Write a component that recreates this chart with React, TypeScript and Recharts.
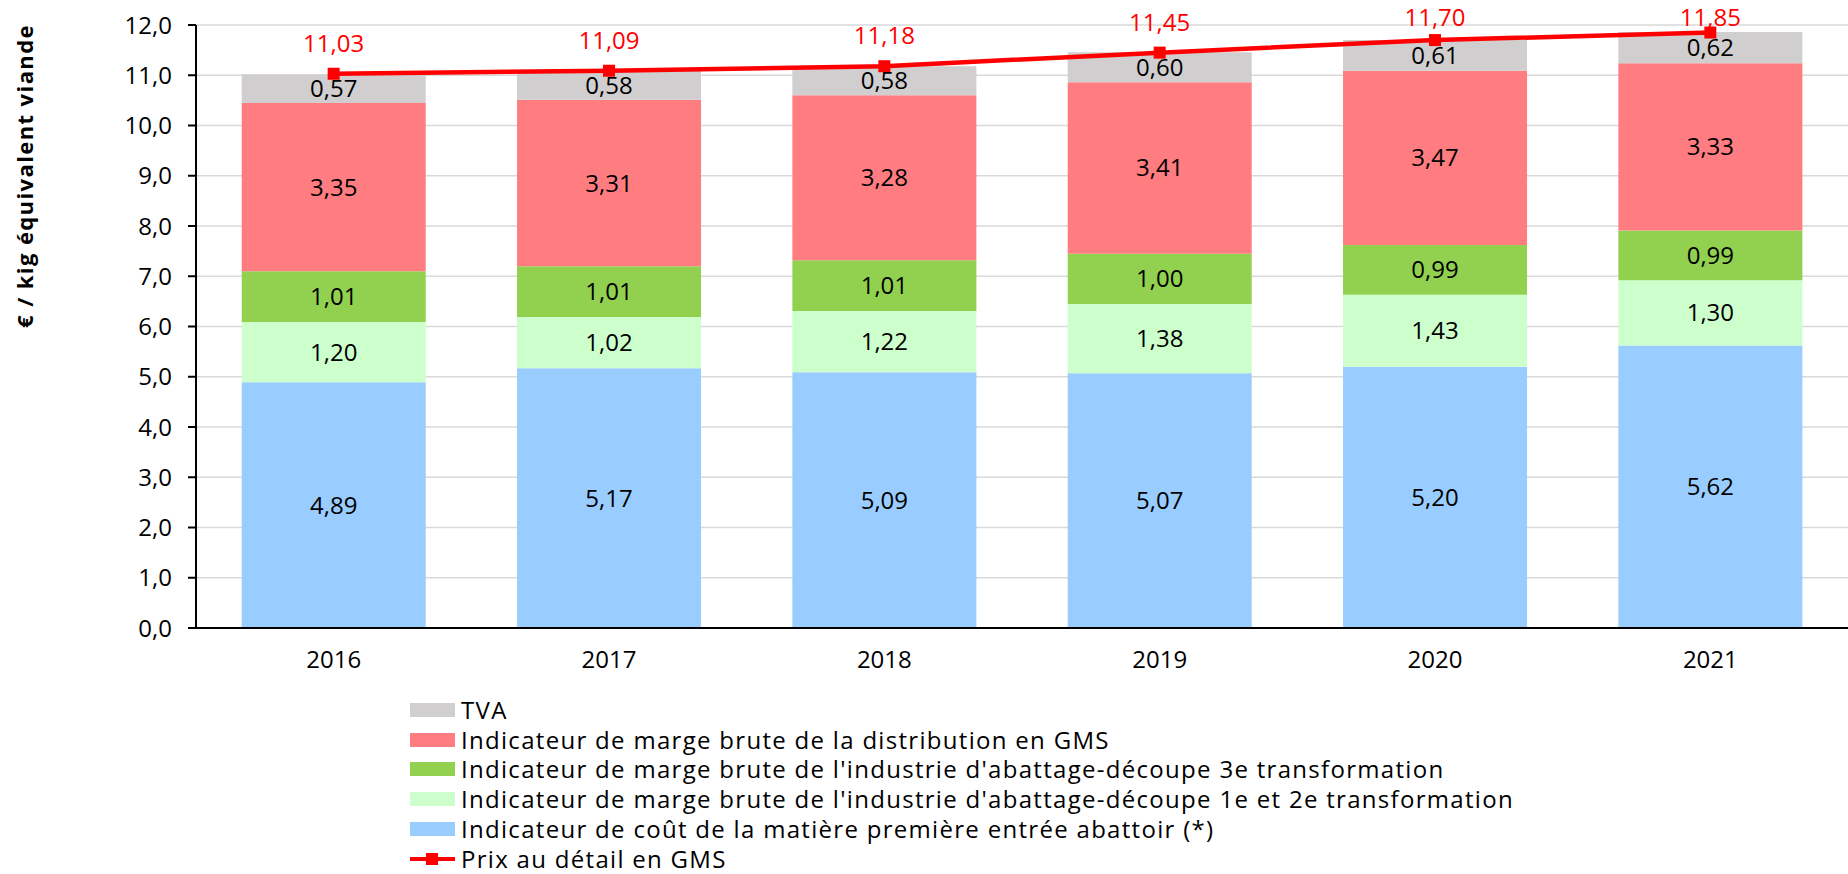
import {
  ComposedChart, Bar, Line, XAxis, YAxis, CartesianGrid, Legend, LabelList,
} from 'recharts';

const years = ['2016', '2017', '2018', '2019', '2020', '2021'];
const coutMatiere = [4.89, 5.17, 5.09, 5.07, 5.20, 5.62];
const marge12 = [1.20, 1.02, 1.22, 1.38, 1.43, 1.30];
const marge3 = [1.01, 1.01, 1.01, 1.00, 0.99, 0.99];
const margeDistrib = [3.35, 3.31, 3.28, 3.41, 3.47, 3.33];
const tva = [0.57, 0.58, 0.58, 0.60, 0.61, 0.62];
const prixDetail = [11.03, 11.09, 11.18, 11.45, 11.70, 11.85];
const yTicks = [0, 1, 2, 3, 4, 5, 6, 7, 8, 9, 10, 11, 12];

const SERIES = [
  { key: 'tva', color: '#D0CECF', label: 'TVA' },
  { key: 'margeDistrib', color: '#FF7C80', label: 'Indicateur de marge brute de la distribution en GMS' },
  { key: 'marge3', color: '#92D050', label: "Indicateur de marge brute de l'industrie d'abattage-découpe 3e transformation" },
  { key: 'marge12', color: '#CCFFCC', label: "Indicateur de marge brute de l'industrie d'abattage-découpe 1e et 2e transformation" },
  { key: 'coutMatiere', color: '#99CCFF', label: 'Indicateur de coût de la matière première entrée abattoir (*)' },
];
const LINE_COLOR = '#FF0000';
const FONT = '"Open Sans", sans-serif';

const data = years.map((year, i) => ({
  year,
  coutMatiere: coutMatiere[i],
  marge12: marge12[i],
  marge3: marge3[i],
  margeDistrib: margeDistrib[i],
  tva: tva[i],
  prix: prixDetail[i],
}));

const fmt2 = (v: number) => v.toFixed(2).replace('.', ',');
const fmt1 = (v: number) => v.toFixed(1).replace('.', ',');

function SquareDot(props: any) {
  const { cx, cy } = props;
  if (cx == null || cy == null) return null;
  return <rect x={cx - 6} y={cy - 6} width={12} height={12} fill={LINE_COLOR} />;
}

function PriceLabel(props: any) {
  const { x, y, value } = props;
  // labels sit above the point but are kept inside the top of the image
  const baseline = Math.max(y - 22, 26);
  return (
    <text x={x} y={baseline} textAnchor="middle" fill={LINE_COLOR} fontSize={24} fontFamily={FONT}>
      {fmt2(value)}
    </text>
  );
}

function YTitle() {
  return (
    <text
      transform="translate(33,176) rotate(-90)"
      textAnchor="middle"
      fontSize={22}
      fontWeight="bold"
      fontFamily={FONT}
      letterSpacing={1.4}
      fill="#000"
    >
      € / kig équivalent viande
    </text>
  );
}

const rowStyle = { display: 'flex', alignItems: 'center', height: 29.8, whiteSpace: 'nowrap' as const };

function LegendBox() {
  // stacked order top to bottom, then the price line
  return (
    <div style={{ fontFamily: FONT, fontSize: 24, lineHeight: '26px', letterSpacing: 1.3, color: '#000' }}>
      {SERIES.map((s) => (
        <div key={s.key} style={rowStyle}>
          <span style={{ width: 45, height: 14, background: s.color, marginRight: 6, display: 'inline-block' }} />
          <span>{s.label}</span>
        </div>
      ))}
      <div style={rowStyle}>
        <svg width={45} height={14} style={{ marginRight: 6 }}>
          <line x1={0} y1={7} x2={45} y2={7} stroke={LINE_COLOR} strokeWidth={4} />
          <rect x={16} y={1} width={12} height={12} fill={LINE_COLOR} />
        </svg>
        <span>Prix au détail en GMS</span>
      </div>
    </div>
  );
}

const stackOrder = ['coutMatiere', 'marge12', 'marge3', 'margeDistrib', 'tva'];

export default function App() {
  return (
    <div style={{ position: 'absolute', left: 0, top: 0, width: 1848, height: 874, background: '#fff' }}>
      <ComposedChart
        width={1848}
        height={874}
        data={data}
        margin={{ top: 25, right: 0, left: 0, bottom: 206 }}
        barCategoryGap="16.6%"
      >
        <CartesianGrid vertical={false} stroke="#D9D9D9" strokeWidth={1.5} />
        <XAxis
          dataKey="year"
          height={40}
          tickLine={false}
          tickSize={8}
          tickMargin={15}
          axisLine={{ stroke: '#000', strokeWidth: 2 }}
          tick={{ fontSize: 24, fill: '#000', fontFamily: FONT }}
        />
        <YAxis
          width={196}
          domain={[0, 12]}
          ticks={yTicks}
          tickFormatter={fmt1}
          tickSize={8}
          tickMargin={16}
          axisLine={{ stroke: '#000', strokeWidth: 2 }}
          tickLine={{ stroke: '#000', strokeWidth: 2 }}
          tick={{ fontSize: 24, fill: '#000', fontFamily: FONT }}
          label={YTitle}
        />
        {stackOrder.map((key) => {
          const s = SERIES.find((x) => x.key === key)!;
          return (
            <Bar key={key} dataKey={key} name={s.label} stackId="a" fill={s.color} isAnimationActive={false}>
              <LabelList
                dataKey={key}
                position="center"
                formatter={(v: any) => fmt2(Number(v))}
                fill="#000"
                fontSize={24}
                fontFamily={FONT}
              />
            </Bar>
          );
        })}
        <Line
          dataKey="prix"
          name="Prix au détail en GMS"
          stroke={LINE_COLOR}
          strokeWidth={4.5}
          dot={<SquareDot />}
          activeDot={false}
          isAnimationActive={false}
        >
          <LabelList dataKey="prix" content={<PriceLabel />} />
        </Line>
        <Legend
          layout="horizontal"
          align="center"
          verticalAlign="middle"
          content={<LegendBox />}
          wrapperStyle={{ left: 410, top: 695, width: 'auto' }}
        />
      </ComposedChart>
    </div>
  );
}
